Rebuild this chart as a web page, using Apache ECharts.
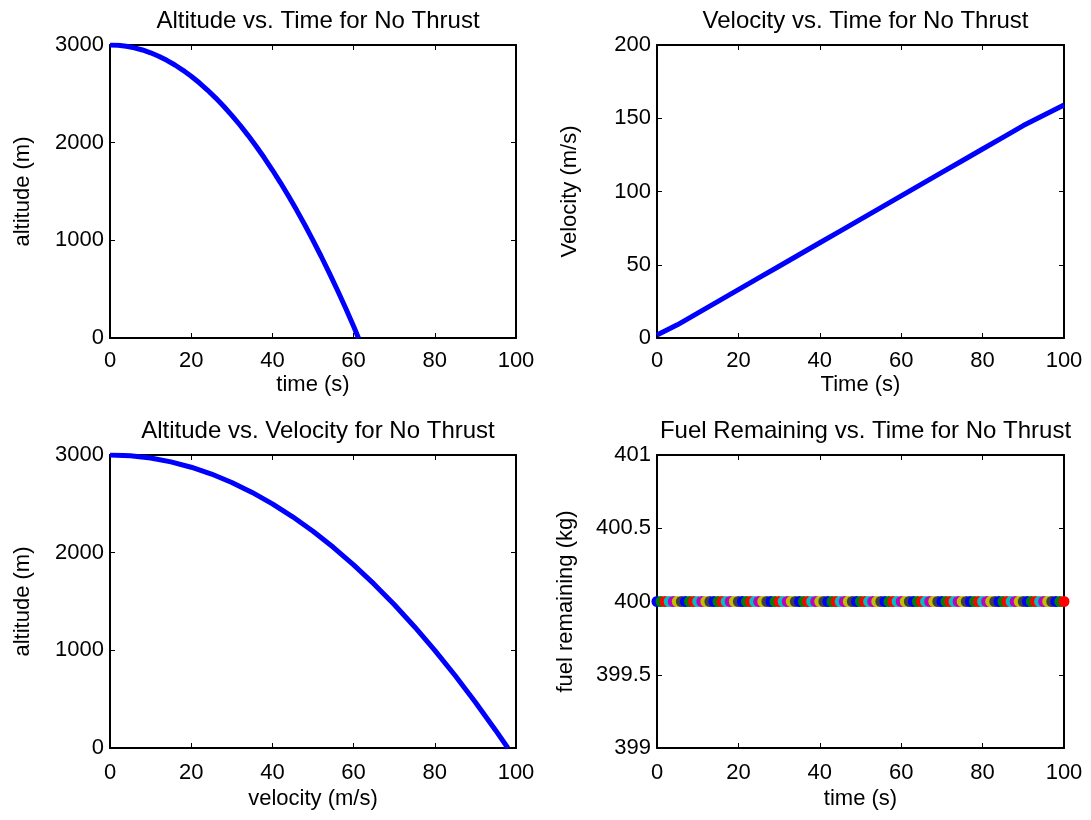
<!DOCTYPE html>
<html>
<head>
<meta charset="utf-8">
<script src="https://cdn.jsdelivr.net/npm/echarts@6/dist/echarts.min.js"></script>
<style>html,body{margin:0;padding:0;background:#fff}#c{width:1091px;height:820px}</style>
</head>
<body>
<div id="c"></div>
<script>
// Altitude vs time (s, m)
const altTime = [0,2,4,6,8,10,12,14,16,18,20,22,24,26,28,30,32,34,36,38,40,42,44,46,48,50,52,54,56,58,60,61.2];
const altValues = [3000,2997,2987,2971,2949,2920,2885,2843,2795,2741,2680,2613,2539,2459,2373,2280,2181,2075,1963,1845,1720,1589,1451,1307,1157,1000,837,667,491,309,120,0];
// Velocity vs time
const velTime = [0,5,10,15,20,25,30,35,40,45,50,55,60,65,70,75,80,85,90,95,100];
const velValues = [2,9,17,25,33,41,49,57,65,73,81,89,97,105,113,121,129,137,145,152,159];
// Altitude vs velocity
const avVelocity = [0,5,10,15,20,25,30,35,40,45,50,55,60,65,70,75,80,85,90,95,98];
const avAltitude = [3000,2992,2969,2930,2875,2805,2719,2617,2500,2367,2219,2055,1875,1680,1469,1242,1000,742,469,180,0];
// Fuel remaining vs time
const fuelTime = [0,1,2,3,4,5,6,7,8,9,10,11,12,13,14,15,16,17,18,19,20,21,22,23,24,25,26,27,28,29,30,31,32,33,34,35,36,37,38,39,40,41,42,43,44,45,46,47,48,49,50,51,52,53,54,55,56,57,58,59,60,61,62,63,64,65,66,67,68,69,70,71,72,73,74,75,76,77,78,79,80,81,82,83,84,85,86,87,88,89,90,91,92,93,94,95,96,97,98,99,100];
const fuelValues = [400,400,400,400,400,400,400,400,400,400,400,400,400,400,400,400,400,400,400,400,400,400,400,400,400,400,400,400,400,400,400,400,400,400,400,400,400,400,400,400,400,400,400,400,400,400,400,400,400,400,400,400,400,400,400,400,400,400,400,400,400,400,400,400,400,400,400,400,400,400,400,400,400,400,400,400,400,400,400,400,400,400,400,400,400,400,400,400,400,400,400,400,400,400,400,400,400,400,400,400,400];
const markerColors = ['#0000ff','#008000','#ff0000','#00bfbf','#bf00bf','#bfbf00','#404040'];

const titles = ['Altitude vs. Time for No Thrust','Velocity vs. Time for No Thrust','Altitude vs. Velocity for No Thrust','Fuel Remaining vs. Time for No Thrust'];
const xNames = ['time (s)','Time (s)','velocity (m/s)','time (s)'];
const yNames = ['altitude (m)','Velocity (m/s)','altitude (m)','fuel remaining (kg)'];
const yRanges = [[0,3000,1000],[0,200,50],[0,3000,1000],[399,401,0.5]];
const xRange = [0,100,20];

const FONT = 'Liberation Sans, Arial, sans-serif';
const TICKFS = 22;
const grids = [
  {left:110, top:45, width:406, height:293},
  {left:657, top:45, width:407, height:293},
  {left:110, top:455, width:406, height:293},
  {left:657, top:455, width:407, height:293}
];
const lineStyle = {color:'#000', width:2};
const fmt = v => String(v);
const xAxes = [], yAxes = [], titleOpts = [];
grids.forEach((g,i)=>{
  titleOpts.push({text:titles[i], left:g.left+g.width/2, top:g.top-41, textAlign:'center',
    textStyle:{fontFamily:FONT,fontSize:24,fontWeight:'normal',color:'#000'}});
  xAxes.push({gridIndex:i, type:'value', min:xRange[0], max:xRange[1], interval:xRange[2], position:'bottom',
    name:xNames[i], nameLocation:'middle', nameGap: i<2?36:40,
    nameTextStyle:{fontFamily:FONT,fontSize:TICKFS,color:'#000'},
    axisLine:{show:true,onZero:false,lineStyle}, axisTick:{inside:true,length:5,lineStyle:{color:'#000',width:1}},
    axisLabel:{fontFamily:FONT,fontSize:TICKFS,color:'#000',margin: i<2?12:14,formatter:fmt}, splitLine:{show:false}});
  xAxes.push({gridIndex:i, type:'value', min:xRange[0], max:xRange[1], interval:xRange[2], position:'top',
    axisLine:{show:true,onZero:false,lineStyle}, axisTick:{inside:true,length:5,lineStyle:{color:'#000',width:1}},
    axisLabel:{show:false}, splitLine:{show:false}});
  const yr = yRanges[i];
  yAxes.push({gridIndex:i, type:'value', min:yr[0], max:yr[1], interval:yr[2], position:'left',
    name:yNames[i], nameLocation:'middle', nameGap: i===3?80:76, nameRotate:90,
    nameTextStyle:{fontFamily:FONT,fontSize:TICKFS,color:'#000'},
    axisLine:{show:true,onZero:false,lineStyle}, axisTick:{inside:true,length:5,lineStyle:{color:'#000',width:1}},
    axisLabel:{fontFamily:FONT,fontSize:TICKFS,color:'#000',margin:6,formatter:fmt}, splitLine:{show:false}});
  yAxes.push({gridIndex:i, type:'value', min:yr[0], max:yr[1], interval:yr[2], position:'right',
    axisLine:{show:true,onZero:false,lineStyle}, axisTick:{inside:true,length:5,lineStyle:{color:'#000',width:1}},
    axisLabel:{show:false}, splitLine:{show:false}});
});

const zip = (a,b)=>a.map((v,k)=>[v,b[k]]);
const blueLine = {type:'line', showSymbol:false, symbol:'none', lineStyle:{color:'#0000ff',width:5}, animation:false, clip:true};
const series = [
  Object.assign({}, blueLine, {xAxisIndex:0, yAxisIndex:0, data:zip(altTime,altValues)}),
  Object.assign({}, blueLine, {xAxisIndex:2, yAxisIndex:2, data:zip(velTime,velValues)}),
  Object.assign({}, blueLine, {xAxisIndex:4, yAxisIndex:4, data:zip(avVelocity,avAltitude)}),
  {type:'scatter', xAxisIndex:6, yAxisIndex:6, symbol:'circle', symbolSize:11, animation:false, clip:false,
    data: fuelTime.map((t,k)=>({value:[t,fuelValues[k]], itemStyle:{color:markerColors[k%7], opacity:1}}))}
];

const chart = echarts.init(document.getElementById('c'), null, {renderer:'canvas'});
chart.setOption({
  backgroundColor:'#fff',
  animation:false,
  title:titleOpts,
  grid:grids,
  xAxis:xAxes,
  yAxis:yAxes,
  series:series
});
</script>
</body>
</html>
